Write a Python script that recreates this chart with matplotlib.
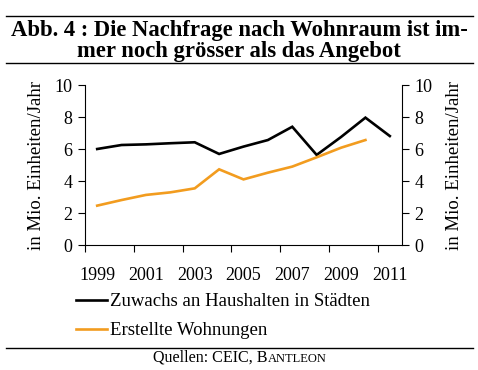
import matplotlib.pyplot as plt
import numpy as np

years = ['1999', '2000', '2001', '2002', '2003', '2004', '2005',
         '2006', '2007', '2008', '2009', '2010', '2011']
haushalte = [6.0, 6.25, 6.29, 6.36, 6.42, 5.69, 6.15, 6.56, 7.39, 5.63, 6.75, 7.96, 6.81]
wohnungen = [2.46, 2.81, 3.13, 3.29, 3.54, 4.73, 4.1, 4.52, 4.9, 5.48, 6.08, 6.56]
yticks = [0, 2, 4, 6, 8, 10]

serif = 'Liberation Serif'
orange = '#F29C1F'

fig = plt.figure(figsize=(4.78, 3.70), dpi=100)
ax = fig.add_axes([85/478, 1 - 245/370, 317/478, 160/370])

x = np.arange(len(years))
l1, = ax.plot(x, haushalte, color='black', lw=1.9, solid_joinstyle='miter',
              label='Zuwachs an Haushalten in Städten')
l2, = ax.plot(x[:len(wohnungen)], wohnungen, color=orange, lw=1.9,
              solid_joinstyle='miter', label='Erstellte Wohnungen')

ax.set_xlim(-0.5, len(years) - 0.5)
ax.set_ylim(0, 10)
ax.set_yticks(yticks)
ax.set_yticklabels([str(v) for v in yticks], fontfamily=serif, fontsize=13)
ax.set_xticks(np.arange(-0.5, len(years), 2))
ax.set_xticklabels([])
ax.set_xticks(x[::2], minor=True)
ax.set_xticklabels(years[::2], minor=True, fontfamily=serif, fontsize=13)
ax.tick_params(axis='x', which='major', length=5, width=0.8, direction='out')
ax.tick_params(axis='x', which='minor', length=0, pad=15.5)
ax.tick_params(axis='y', length=5, width=0.8, pad=4)
ax.spines['top'].set_visible(False)
ax.spines['right'].set_visible(False)
ax.set_ylabel('in Mio. Einheiten/Jahr', fontfamily=serif, fontsize=13.5, labelpad=7)

ax2 = ax.twinx()
ax2.set_ylim(0, 10)
ax2.set_yticks(yticks)
ax2.set_yticklabels([str(v) for v in yticks], fontfamily=serif, fontsize=13)
ax2.tick_params(axis='y', length=5, width=0.8, pad=4)
ax2.spines['top'].set_visible(False)
ax2.spines['left'].set_visible(False)
ax2.spines['bottom'].set_visible(False)
ax2.set_ylabel('in Mio. Einheiten/Jahr', fontfamily=serif, fontsize=13.5, labelpad=10)

fig.legend(handles=[l1, l2], loc='upper left', bbox_to_anchor=(76/478, 1 - 293/370),
           frameon=False, prop={'family': serif, 'size': 13.5},
           handlelength=1.65, handletextpad=0.15, labelspacing=0.65, borderaxespad=0,
           borderpad=0)

# title block with rules
fig.add_artist(plt.Line2D([6/478, 473/478], [1 - 16/370, 1 - 16/370], color='black', lw=1))
fig.add_artist(plt.Line2D([6/478, 473/478], [1 - 63/370, 1 - 63/370], color='black', lw=1))
fig.text(0.5, 1 - 41/370, 'Abb. 4 : Die Nachfrage nach Wohnraum ist im-\nmer noch grösser als das Angebot',
         ha='center', va='center', fontfamily=serif, fontweight='bold', fontsize=16.3,
         linespacing=1.05)

# source line with small caps
fig.add_artist(plt.Line2D([6/478, 473/478], [1 - 348/370, 1 - 348/370], color='black', lw=1))
t1 = fig.text(153/478, 1 - 362/370, 'Quellen: CEIC, B', ha='left', va='baseline',
              fontfamily=serif, fontsize=11.6)
fig.canvas.draw()
bb = t1.get_window_extent()
fig.text(bb.x1 / fig.bbox.width, 1 - 362/370, 'ANTLEON', ha='left', va='baseline',
         fontfamily=serif, fontsize=9)

fig.savefig('out.png', dpi=100)
